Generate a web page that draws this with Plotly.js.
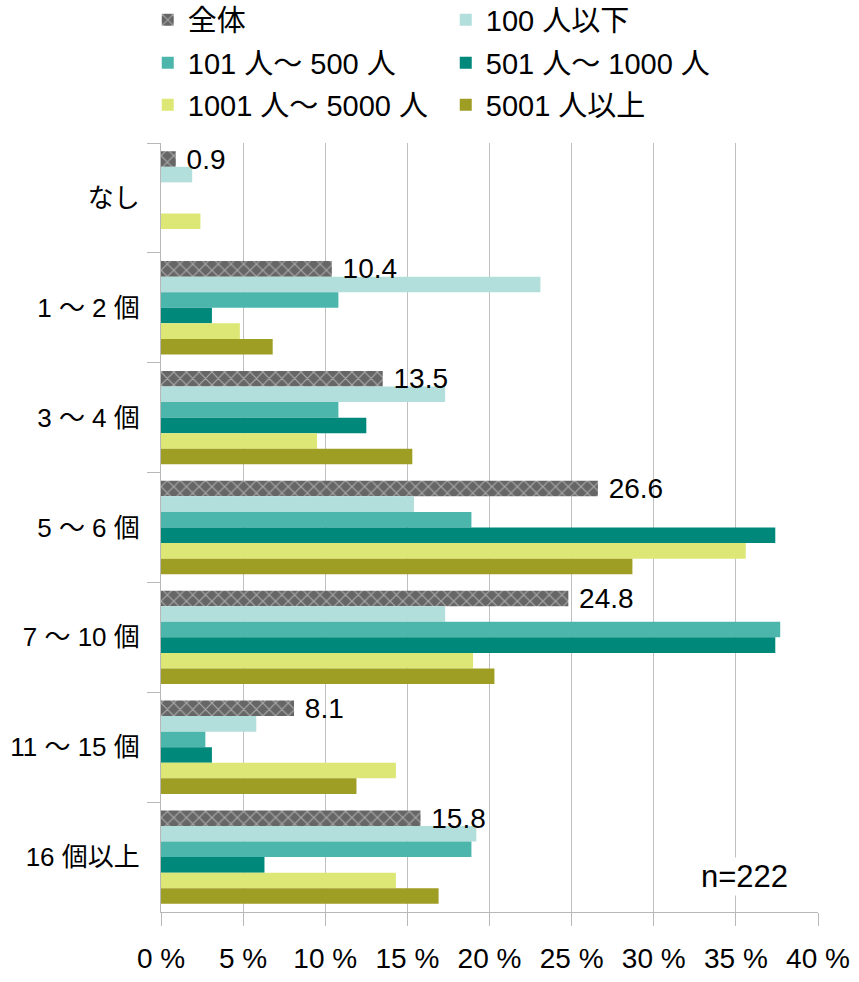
<!DOCTYPE html>
<html>
<head>
<meta charset="utf-8">
<script src="https://cdn.plot.ly/plotly-3.0.1.min.js"></script>
<style>
  html, body { margin: 0; padding: 0; background: #fff; }
  #chart { width: 859px; height: 982px; }
</style>
</head>
<body>
<div id="chart"></div>
<script>
// categories (top to bottom)
const categories = ['なし', '1 ～ 2 個', '3 ～ 4 個', '5 ～ 6 個', '7 ～ 10 個', '11 ～ 15 個', '16 個以上'];

// series values (%)
const zentai   = [0.9, 10.4, 13.5, 26.6, 24.8, 8.1, 15.8];
const le100    = [1.9, 23.1, 17.3, 15.4, 17.3, 5.8, 19.2];
const s101_500 = [0, 10.8, 10.8, 18.9, 37.7, 2.7, 18.9];
const s501_1k  = [0, 3.1, 12.5, 37.4, 37.4, 3.1, 6.3];
const s1k_5k   = [2.4, 4.8, 9.5, 35.6, 19.0, 14.3, 14.3];
const s5k_up   = [0, 6.8, 15.3, 28.7, 20.3, 11.9, 16.9];

const seriesNames = ['全体', '100 人以下', '101 人～ 500 人', '501 人～ 1000 人', '1001 人～ 5000 人', '5001 人以上'];
const xTicks = [0, 5, 10, 15, 20, 25, 30, 35, 40];

const FONT = 'Liberation Sans, Arial, Noto Sans CJK JP, sans-serif';

// 6 bars per category, laid out by hand so the value labels can sit on top
const GROUP = 0.85;
const W = GROUP / 6;

function bar(i, name, values, color, legend) {
    return {
        type: 'bar',
        orientation: 'h',
        name: name,
        x: values,
        y: categories,
        width: W,
        offset: -GROUP / 2 + i * W,
        legend: legend,
        legendrank: i + 1,
        marker: {color: color},
        hoverinfo: 'x+name'
    };
}

let t0 = bar(0, seriesNames[0], zentai, '#666666', 'legend');
t0.marker.pattern = {shape: 'x', bgcolor: '#666666', fgcolor: '#a8a8a8', size: 9, solidity: 0.25};

// transparent copy of 全体 drawn last, only to carry the labels
let labels = bar(0, seriesNames[0], zentai, 'rgba(0,0,0,0)', 'legend');
labels.showlegend = false;
labels.text = zentai.map(v => ' ' + v.toFixed(1));
labels.textposition = 'outside';
labels.constraintext = 'none';
labels.cliponaxis = false;
labels.textfont = {family: FONT, size: 28, color: '#000'};

let data = [
    t0,
    bar(1, seriesNames[1], le100, '#b2dfdb', 'legend'),
    bar(2, seriesNames[2], s101_500, '#4db6ac', 'legend2'),
    bar(3, seriesNames[3], s501_1k, '#00897b', 'legend2'),
    bar(4, seriesNames[4], s1k_5k, '#dce775', 'legend3'),
    bar(5, seriesNames[5], s5k_up, '#9e9d24', 'legend3'),
    labels
];

function legendRow(ypx) {
    return {
        orientation: 'h',
        xref: 'container', yref: 'container',
        x: 0.172, xanchor: 'left',
        y: 1 - ypx / 982, yanchor: 'middle',
        entrywidth: 253, entrywidthmode: 'pixels',
        font: {family: FONT, size: 29, color: '#000'},
        bgcolor: 'rgba(0,0,0,0)'
    };
}

let layout = {
    width: 859,
    height: 982,
    margin: {l: 161, r: 41, t: 143, b: 70, pad: 0},
    paper_bgcolor: '#fff',
    plot_bgcolor: '#fff',
    barmode: 'overlay',
    font: {family: FONT, color: '#000'},
    showlegend: true,
    legend: legendRow(20),
    legend2: legendRow(63),
    legend3: legendRow(105),
    xaxis: {
        range: [0, 40],
        tickvals: xTicks,
        ticktext: xTicks.map(v => v + ' %'),
        showgrid: true,
        gridcolor: '#c0c0c0',
        gridwidth: 1,
        zeroline: false,
        showline: true,
        linecolor: '#b8b8b8',
        ticks: 'outside',
        ticklen: 13,
        tickcolor: '#b8b8b8',
        ticklabelstandoff: 8,
        tickfont: {family: FONT, size: 28, color: '#000'},
        fixedrange: true
    },
    yaxis: {
        type: 'category',
        autorange: 'reversed',
        showgrid: false,
        showline: true,
        linecolor: '#b8b8b8',
        ticks: 'outside',
        tickson: 'boundaries',
        ticklen: 13,
        tickcolor: '#b8b8b8',
        ticklabelstandoff: 15,
        tickfont: {family: FONT, size: 26, color: '#000'},
        fixedrange: true
    },
    annotations: [{
        xref: 'paper', yref: 'paper',
        x: 0.958, y: 0.021,
        text: 'n=222',
        showarrow: false,
        bgcolor: '#fff',
        font: {family: 'Liberation Sans Narrow, Liberation Sans, sans-serif', size: 31, color: '#000'}
    }]
};

Plotly.newPlot('chart', data, layout, {displayModeBar: false, staticPlot: true});
</script>
</body>
</html>
